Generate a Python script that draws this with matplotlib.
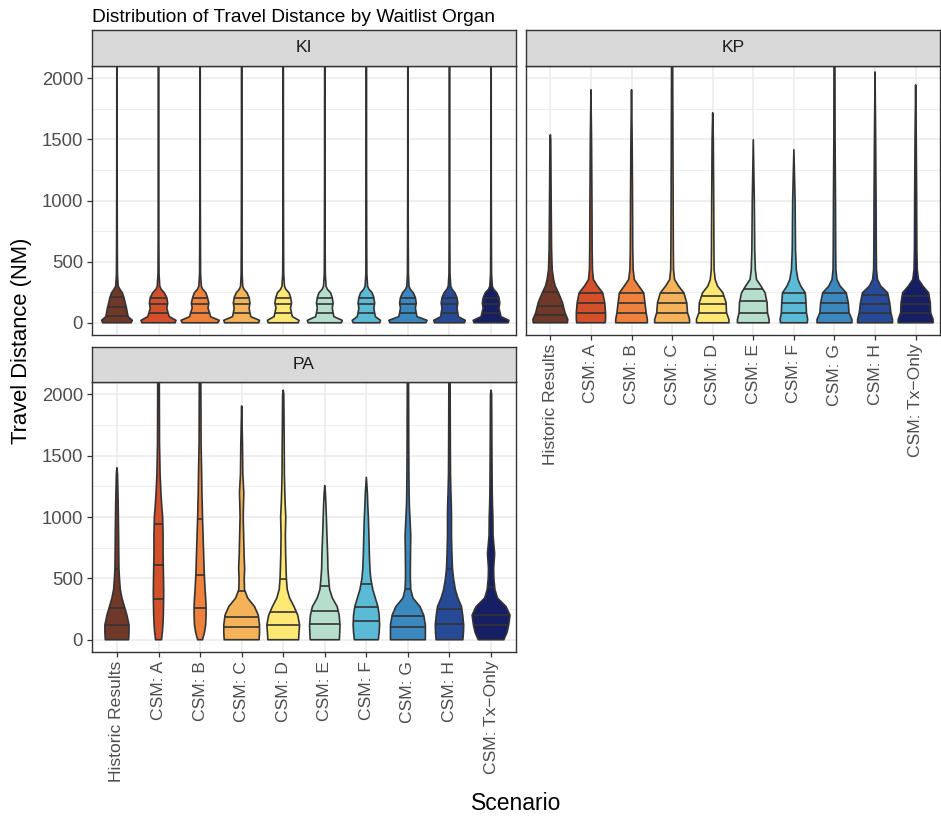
import matplotlib
matplotlib.use("Agg")
import matplotlib.pyplot as plt
import numpy as np

plt.rcParams['font.family'] = ['Liberation Sans', 'DejaVu Sans']

# ---- data ----
scenarios = ["Historic Results", "CSM: A", "CSM: B", "CSM: C", "CSM: D",
             "CSM: E", "CSM: F", "CSM: G", "CSM: H", "CSM: Tx\u2212Only"]
colors = ["#703828", "#D4502A", "#EE823C", "#F4B359", "#FFE873",
          "#B5DFCC", "#5BBAD6", "#3B88BF", "#264A95", "#161F63"]

# KI: violin half-widths (x units) at these travel distances
ki_levels = [0, 20, 50, 80, 120, 160, 205, 245, 275, 300, 400, 700, 1200, 2500]
ki_widths = [
    [0.34, 0.37, 0.27, 0.25, 0.23, 0.20, 0.17, 0.13, 0.07, 0.03, 0.012, 0.008, 0.005, 0.003],
    [0.40, 0.42, 0.26, 0.23, 0.20, 0.22, 0.20, 0.14, 0.06, 0.03, 0.012, 0.008, 0.005, 0.003],
    [0.43, 0.46, 0.25, 0.23, 0.19, 0.21, 0.18, 0.14, 0.06, 0.03, 0.012, 0.008, 0.005, 0.003],
    [0.41, 0.43, 0.22, 0.20, 0.18, 0.20, 0.18, 0.13, 0.055, 0.026, 0.012, 0.008, 0.005, 0.003],
    [0.36, 0.38, 0.22, 0.20, 0.175, 0.20, 0.18, 0.14, 0.06, 0.03, 0.012, 0.008, 0.005, 0.003],
    [0.40, 0.42, 0.22, 0.20, 0.18, 0.20, 0.18, 0.14, 0.06, 0.03, 0.012, 0.008, 0.005, 0.003],
    [0.32, 0.34, 0.22, 0.20, 0.18, 0.20, 0.18, 0.14, 0.06, 0.03, 0.012, 0.008, 0.005, 0.003],
    [0.43, 0.46, 0.22, 0.20, 0.18, 0.20, 0.18, 0.13, 0.055, 0.026, 0.012, 0.008, 0.005, 0.003],
    [0.36, 0.38, 0.21, 0.20, 0.18, 0.20, 0.18, 0.13, 0.06, 0.03, 0.012, 0.008, 0.005, 0.003],
    [0.41, 0.43, 0.24, 0.22, 0.19, 0.21, 0.19, 0.14, 0.06, 0.03, 0.012, 0.008, 0.005, 0.003],
]
ki_max = [2600] * 10
ki_quart = [(54, 131, 209)] + [(82, 150, 205)] * 9

# KP
kp_levels = [0, 27, 82, 164, 245, 300, 354, 435, 600, 1000, 1500, 2500]
kp_widths = [
    [0.42, 0.43, 0.36, 0.30, 0.20, 0.12, 0.08, 0.045, 0.03, 0.02, 0.01, 0.005],
    [0.35, 0.36, 0.36, 0.34, 0.29, 0.16, 0.06, 0.037, 0.03, 0.025, 0.015, 0.008],
    [0.39, 0.39, 0.36, 0.33, 0.30, 0.18, 0.07, 0.04, 0.03, 0.025, 0.015, 0.008],
    [0.43, 0.43, 0.38, 0.36, 0.29, 0.16, 0.06, 0.035, 0.03, 0.025, 0.02, 0.01],
    [0.40, 0.40, 0.34, 0.33, 0.25, 0.12, 0.06, 0.035, 0.03, 0.025, 0.015, 0.008],
    [0.39, 0.39, 0.35, 0.34, 0.29, 0.19, 0.08, 0.05, 0.035, 0.025, 0.01, 0.005],
    [0.33, 0.34, 0.31, 0.30, 0.28, 0.17, 0.10, 0.06, 0.04, 0.03, 0.01, 0.005],
    [0.43, 0.43, 0.36, 0.34, 0.29, 0.14, 0.06, 0.035, 0.03, 0.025, 0.015, 0.01],
    [0.43, 0.43, 0.39, 0.36, 0.31, 0.14, 0.06, 0.035, 0.03, 0.025, 0.015, 0.008],
    [0.43, 0.43, 0.37, 0.36, 0.32, 0.18, 0.07, 0.04, 0.03, 0.025, 0.015, 0.008],
]
kp_max = [1537, 1905, 1905, 2600, 1717, 1496, 1415, 2600, 2051, 1945]
kp_quart = [(60, 141, 250), (82, 164, 245), (82, 164, 245), (76, 158, 245),
            (76, 150, 218), (82, 177, 277), (82, 164, 245), (82, 164, 245),
            (76, 150, 231), (82, 150, 218)]

# PA
pa_levels = [0, 60, 120, 200, 270, 340, 410, 500, 580, 700, 850, 1000,
             1100, 1200, 1350, 1600, 2000, 2500]
pa_widths = [
    [0.28, 0.29, 0.29, 0.24, 0.18, 0.12, 0.08, 0.06, 0.048, 0.044, 0.04, 0.034, 0.03, 0.024, 0.014],
    [0.072, 0.092, 0.106, 0.116, 0.12, 0.124, 0.124, 0.12, 0.116, 0.11, 0.11, 0.10, 0.076, 0.058, 0.038, 0.024, 0.02, 0.014],
    [0.058, 0.106, 0.134, 0.144, 0.144, 0.134, 0.12, 0.106, 0.096, 0.086, 0.072, 0.058, 0.052, 0.044, 0.038, 0.024, 0.02, 0.014],
    [0.42, 0.43, 0.43, 0.40, 0.31, 0.144, 0.068, 0.062, 0.072, 0.058, 0.048, 0.038, 0.044, 0.052, 0.028, 0.02],
    [0.37, 0.38, 0.394, 0.35, 0.26, 0.154, 0.096, 0.076, 0.068, 0.058, 0.052, 0.062, 0.048, 0.038, 0.028, 0.024, 0.014],
    [0.35, 0.36, 0.366, 0.346, 0.298, 0.182, 0.116, 0.092, 0.076, 0.068, 0.052, 0.038, 0.028, 0.014],
    [0.288, 0.308, 0.318, 0.308, 0.278, 0.216, 0.154, 0.106, 0.086, 0.072, 0.062, 0.048, 0.034, 0.024],
    [0.42, 0.42, 0.42, 0.38, 0.29, 0.12, 0.068, 0.058, 0.058, 0.062, 0.068, 0.048, 0.034, 0.028, 0.024, 0.02, 0.016, 0.014],
    [0.322, 0.336, 0.342, 0.318, 0.288, 0.202, 0.14, 0.096, 0.072, 0.058, 0.048, 0.048, 0.044, 0.034, 0.024, 0.02, 0.016, 0.014],
    [0.308, 0.384, 0.424, 0.456, 0.36, 0.154, 0.092, 0.068, 0.062, 0.086, 0.048, 0.044, 0.034, 0.028, 0.024, 0.02, 0.014],
]
pa_max = [1401, 2600, 2600, 1905, 2033, 1255, 1323, 2600, 2600, 2033]
pa_quart = [(119, 255, 577), (328, 612, 940), (255, 531, 981), (103, 187, 401),
            (119, 222, 496), (127, 238, 439), (149, 268, 458), (106, 195, 412),
            (130, 252, 575), (119, 203, 428)]

panels = {
    "KI": (ki_levels, ki_widths, ki_max, ki_quart),
    "KP": (kp_levels, kp_widths, kp_max, kp_quart),
    "PA": (pa_levels, pa_widths, pa_max, pa_quart),
}

W, H = 941, 819
fig = plt.figure(figsize=(W / 100, H / 100), dpi=100)

EDGE = "#333333"
GRID = "#EBEBEB"


def px_box(x0, y0, x1, y1):
    return [x0 / W, 1 - y1 / H, (x1 - x0) / W, (y1 - y0) / H]


def draw_violin(ax, x, levels, widths, top, quart, color):
    ys = [lv for lv, w in zip(levels, widths) if lv < top]
    ws = [w for lv, w in zip(levels, widths) if lv < top]
    ys.append(top)
    ws.append(0.0)
    ys = np.array(ys, float)
    ws = np.array(ws, float)
    px = np.concatenate([x - ws, (x + ws)[::-1]])
    py = np.concatenate([ys, ys[::-1]])
    ax.fill(px, py, facecolor=color, edgecolor=EDGE, lw=1.2,
            joinstyle="round", zorder=3)
    for q in quart:
        w = np.interp(q, ys, ws)
        ax.plot([x - w, x + w], [q, q], color=EDGE, lw=1.2, zorder=4,
                solid_capstyle="butt")


layout = {
    "KI": ((92, 66, 516, 335), (92, 30, 516, 66), True, False),
    "KP": ((526, 66, 940, 335), (526, 30, 940, 66), False, True),
    "PA": ((92, 382, 516, 652), (92, 347, 516, 382), True, True),
}

xpos = np.arange(1, len(scenarios) + 1)

for name, (box, sbox, show_y, show_x) in layout.items():
    levels, widths, tops, quarts = panels[name]
    ax = fig.add_axes(px_box(*box))
    ax.set_xlim(0.4, 10.6)
    ax.set_ylim(-100, 2100)
    ax.set_yticks([0, 500, 1000, 1500, 2000])
    ax.set_yticks([250, 750, 1250, 1750], minor=True)
    ax.set_xticks(xpos)
    ax.grid(which="major", color=GRID, lw=1.1)
    ax.grid(which="minor", axis="y", color=GRID, lw=0.55)
    ax.set_axisbelow(True)
    for sp in ax.spines.values():
        sp.set_color(EDGE)
        sp.set_linewidth(1.0)
    ax.tick_params(which="minor", length=0)
    ax.tick_params(which="major", length=3.8, width=0.9, color=EDGE,
                   labelcolor="#4D4D4D", pad=2.6)
    ax.tick_params(axis="y", labelsize=13.3)
    ax.tick_params(axis="x", labelsize=12.6)
    if show_y:
        ax.set_yticklabels(["0", "500", "1000", "1500", "2000"])
    else:
        ax.tick_params(axis="y", length=0, labelleft=False)
    if show_x:
        ax.set_xticklabels(scenarios, rotation=90, ha="center", va="top")
    else:
        ax.tick_params(axis="x", length=0, labelbottom=False)

    for i in range(len(scenarios)):
        draw_violin(ax, xpos[i], levels, widths[i], tops[i], quarts[i], colors[i])

    sax = fig.add_axes(px_box(*sbox))
    sax.set_facecolor("#D9D9D9")
    sax.set_xticks([])
    sax.set_yticks([])
    for sp in sax.spines.values():
        sp.set_color(EDGE)
        sp.set_linewidth(1.0)
    sax.text(0.5, 0.5, name, ha="center", va="center", fontsize=12.6,
             color="#1A1A1A", transform=sax.transAxes)

fig.text(92 / W, 1 - 17 / H, "Distribution of Travel Distance by Waitlist Organ",
         ha="left", va="center", fontsize=13.8, color="black")
fig.text(516 / W, 1 - 803 / H, "Scenario", ha="center", va="center",
         fontsize=16.5, color="black")
fig.text(22 / W, 1 - 341 / H, "Travel Distance (NM)", ha="center", va="center",
         rotation=90, fontsize=15.8, color="black")

fig.savefig("out.png", dpi=100)
